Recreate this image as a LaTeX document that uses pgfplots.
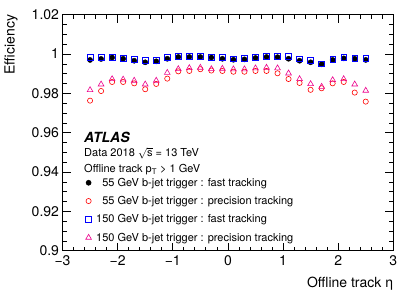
\documentclass[border=0pt]{standalone}
\usepackage{fontspec}
\setmainfont{TeX Gyre Heros}
\usepackage{pgfplots}
\usepackage{pgfplotstable}
\pgfplotsset{compat=1.18}

\pgfplotstableread{
eta blk sq tri cir
-2.5 0.9970 0.9982 0.9817 0.9763
-2.3 0.9975 0.9982 0.9846 0.9812
-2.1 0.9982 0.9983 0.9873 0.9858
-1.9 0.9976 0.9980 0.9871 0.9858
-1.7 0.9966 0.9973 0.9865 0.9851
-1.5 0.9958 0.9968 0.9846 0.9821
-1.3 0.9963 0.9970 0.9865 0.9848
-1.1 0.9976 0.9985 0.9905 0.9875
-0.9 0.9985 0.9989 0.9924 0.9912
-0.7 0.9985 0.9989 0.9929 0.9914
-0.5 0.9985 0.9989 0.9931 0.9923
-0.3 0.9982 0.9985 0.9924 0.9916
-0.1 0.9976 0.9982 0.9926 0.9914
0.1 0.9971 0.9976 0.9923 0.9910
0.3 0.9973 0.9978 0.9923 0.9910
0.5 0.9980 0.9983 0.9928 0.9914
0.7 0.9985 0.9987 0.9931 0.9914
0.9 0.9984 0.9987 0.9928 0.9902
1.1 0.9976 0.9987 0.9902 0.9873
1.3 0.9966 0.9976 0.9873 0.9853
1.5 0.9958 0.9968 0.9848 0.9818
1.7 0.9948 0.9951 0.9834 0.9826
1.9 0.9970 0.9975 0.9868 0.9851
2.1 0.9978 0.9982 0.9873 0.9858
2.3 0.9976 0.9980 0.9846 0.9804
2.5 0.9970 0.9978 0.9814 0.9758
}\data

\begin{document}
\begin{tikzpicture}
\begin{axis}[
  name=ax,
  scale only axis, width=330.8bp, height=236bp,
  xmin=-3, xmax=3, ymin=0.9, ymax=1.02,
  xtick={-3,-2,-1,0,1,2,3},
  xticklabels={−3,−2,−1,0,1,2,3},
  ytick={0.9,0.92,0.94,0.96,0.98,1,1.02},
  yticklabels={0.9,0.92,0.94,0.96,0.98,1,1.02},
  minor x tick num=4, minor y tick num=3,
  tick align=inside,
  xtick pos=both, ytick pos=both,
  major tick length=8bp, minor tick length=4bp,
  tick style={black, line width=0.7bp},
  axis line style={line width=0.8bp},
  ticklabel style={font=\fontsize{14bp}{16bp}\selectfont},
  xticklabel style={yshift=-1bp},
  xlabel={Offline track η},
  xlabel style={at={(axis description cs:1,0)}, anchor=east, yshift=-33bp, inner sep=0pt, font=\fontsize{14bp}{16bp}\selectfont},
  ylabel={Efficiency},
  ylabel style={at={([xshift=-51.5bp]axis description cs:0,1)}, anchor=east, inner sep=0pt, font=\fontsize{14bp}{16bp}\selectfont},
  legend style={draw=none, fill=none, at={(axis description cs:0,1)}, anchor=north west, xshift=23bp, yshift=-161bp, inner sep=0pt,
    font=\fontsize{11bp}{13bp}\selectfont, row sep=4.6bp, cells={anchor=west},
    /tikz/every odd column/.append style={column sep=2.7bp}},
  legend cell align=left,
]
\addplot[only marks, mark=*, mark size=2.6bp, black] table[x=eta,y=blk]{\data};
\addlegendentry{\phantom{1}55 GeV b-jet trigger : fast tracking}
\addplot[only marks, mark=o, mark size=2.6bp, red, line width=0.6bp] table[x=eta,y=cir]{\data};
\addlegendentry{\phantom{1}55 GeV b-jet trigger : precision tracking}
\addplot[only marks, mark=square, mark size=2.9bp, blue, line width=0.5bp, mark options={draw=blue}] table[x=eta,y=sq]{\data};
\addlegendentry{150 GeV b-jet trigger : fast tracking}
\addplot[only marks, mark=triangle, mark size=3.3bp, magenta, line width=0.6bp] table[x=eta,y=tri]{\data};
\addlegendentry{150 GeV b-jet trigger : precision tracking}
\node[anchor=west, inner sep=0pt, font=\fontsize{14bp}{16bp}\selectfont\bfseries\itshape] at (axis description cs:0.065,0.478) {ATLAS};
\node[anchor=west, inner sep=0pt, font=\fontsize{11bp}{13bp}\selectfont] at (axis description cs:0.065,0.413) {Data 2018 $\sqrt{\mbox{s}}$ = 13 TeV};
\node[anchor=west, inner sep=0pt, font=\fontsize{11bp}{13bp}\selectfont] at (axis description cs:0.065,0.343) {Offline track p\textsubscript{T} > 1 GeV};
\end{axis}
\pgfresetboundingbox
\useasboundingbox ([shift={(-62.5bp,-47.3bp)}]ax.south west) rectangle ([shift={(21.7bp,14.7bp)}]ax.north east);
\end{tikzpicture}
\end{document}
